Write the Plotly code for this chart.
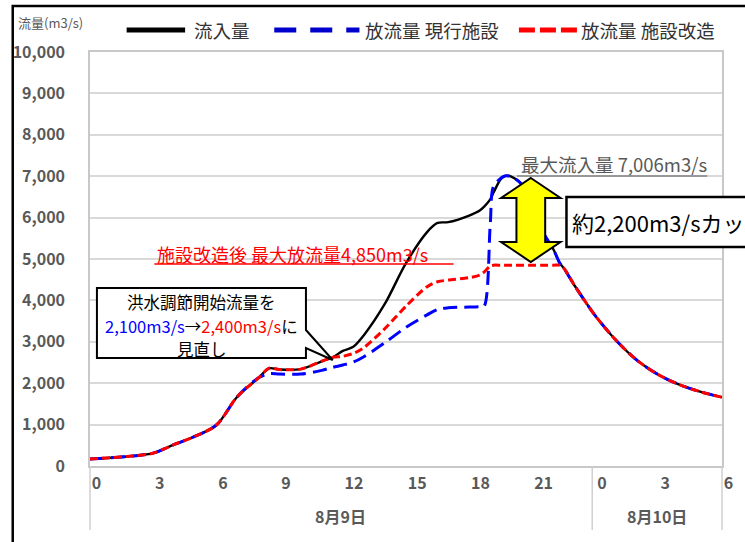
import plotly.graph_objects as go

# Time axis (hours from 0:00 on 8/9) and discharge series (m3/s)
hours = [0, 1, 2, 3, 4, 5, 6, 7, 8, 8.5, 9, 10, 11, 11.5, 12, 12.5, 13, 14, 15, 16,
         16.5, 17, 18, 18.5, 18.7, 19, 19.15, 19.5, 19.7, 20, 20.5, 21, 21.5, 22,
         22.3, 22.5, 23, 23.5, 24, 25, 26, 27, 28, 29, 30]

inflow = [170, 200, 240, 310, 520, 720, 990, 1680, 2130, 2360, 2330, 2340, 2530, 2620,
          2780, 2880, 3160, 3920, 4900, 5650, 5870, 5890, 6050, 6170, 6260, 6440, 6600,
          6930, 7006, 6990, 6800, 6330, 5650, 5230, 4900, 4770, 4360, 3980, 3620, 3020,
          2540, 2200, 1960, 1790, 1660]

outflow_current = [170, 200, 240, 310, 520, 720, 990, 1680, 2130, 2230, 2220, 2220, 2310,
                   2380, 2440, 2510, 2640, 2980, 3350, 3650, 3780, 3820, 3840, 3845, 3850,
                   5840, 6750, 6950, 7006, 6990, 6800, 6330, 5650, 5230, 4900, 4770, 4360,
                   3980, 3620, 3020, 2540, 2200, 1960, 1790, 1660]

outflow_modified = [170, 200, 240, 310, 520, 720, 990, 1680, 2130, 2360, 2330, 2340, 2530,
                    2620, 2650, 2720, 2860, 3320, 3860, 4330, 4450, 4490, 4550, 4610, 4680,
                    4830, 4850, 4850, 4850, 4850, 4850, 4850, 4850, 4850, 4850, 4770, 4360,
                    3980, 3620, 3020, 2540, 2200, 1960, 1790, 1660]

tick_hours = [0, 3, 6, 9, 12, 15, 18, 21, 24, 27, 30]
tick_text = ["0", "3", "6", "9", "12", "15", "18", "21", "0", "3", "6"]
day_labels = ["8月9日", "8月10日"]
series_names = ["流入量", "放流量 現行施設", "放流量 施設改造"]

FONT = "Noto Sans CJK JP"
GRAY = "#595959"
W, H = 745, 542
PL, PR, PT, PB = 90, 728, 52, 466


def px(x):
    return (x - PL) / (PR - PL)


def py(y):
    return (PB - y) / (PB - PT)


fig = go.Figure()
fig.add_trace(go.Scatter(x=hours, y=inflow, name=series_names[0], mode="lines",
                         line=dict(color="#000000", width=2.4, shape="spline", smoothing=0.9)))
fig.add_trace(go.Scatter(x=hours, y=outflow_current, name=series_names[1], mode="lines",
                         line=dict(color="#0000ff", width=3, dash="14px,7px",
                                   shape="spline", smoothing=0.9)))
fig.add_trace(go.Scatter(x=hours, y=outflow_modified, name=series_names[2], mode="lines",
                         line=dict(color="#ff0000", width=3, dash="8px,4px",
                                   shape="spline", smoothing=0.9)))

shapes = []
annotations = []

# outer frame
shapes.append(dict(type="rect", xref="paper", yref="paper", x0=px(12), x1=px(800),
                   y0=py(600), y1=py(6), line=dict(color="black", width=2.5)))
# day separators below the axis
for xs in (90, 597, 728):
    shapes.append(dict(type="line", xref="paper", yref="paper", x0=px(xs), x1=px(xs),
                       y0=py(466), y1=py(530), line=dict(color="#d0d0d0", width=1.5)))

# custom legend
legend_items = [
    (127, 186, "#000000", "solid", 193, series_names[0]),
    (276, 362, "#0000cc", "22px,14px", 366, series_names[1]),
    (523, 582, "#ff0000", "16px,5px", 584, series_names[2]),
]
for x0, x1, col, dsh, tx, name in legend_items:
    shapes.append(dict(type="line", xref="paper", yref="paper", x0=px(x0), x1=px(x1),
                       y0=py(30), y1=py(30), line=dict(color=col, width=5, dash=dsh)))
    annotations.append(dict(xref="paper", yref="paper", x=px(tx), y=py(30), xanchor="left",
                            yanchor="middle", showarrow=False, text=name,
                            font=dict(family=FONT, size=18.5, color="#333333")))

annotations.append(dict(xref="paper", yref="paper", x=px(15), y=py(23), xanchor="left",
                        yanchor="middle", showarrow=False, text="流量(m3/s)",
                        font=dict(family=FONT, size=13, color=GRAY)))

# day labels
for cx, lab in zip((343, 662), day_labels):
    annotations.append(dict(xref="paper", yref="paper", x=px(cx), y=py(516), xanchor="center",
                            yanchor="middle", showarrow=False, text=lab,
                            font=dict(family=FONT, size=16, color=GRAY, weight="bold")))

# maximum outflow after modification (red, underlined)
annotations.append(dict(xref="paper", yref="paper", x=px(156), y=py(254), xanchor="left",
                        yanchor="middle", showarrow=False,
                        text="施設改造後 最大放流量4,850m3/s",
                        font=dict(family=FONT, size=18, color="#ff0000")))
shapes.append(dict(type="line", xref="paper", yref="paper", x0=px(155), x1=px(457),
                   y0=py(264), y1=py(264), line=dict(color="#ff0000", width=1.5)))

# maximum inflow (gray, underlined)
annotations.append(dict(xref="paper", yref="paper", x=px(523), y=py(164), xanchor="left",
                        yanchor="middle", showarrow=False, text="最大流入量 7,006m3/s",
                        font=dict(family=FONT, size=18.5, color=GRAY)))
shapes.append(dict(type="line", xref="paper", yref="paper", x0=px(521), x1=px(713),
                   y0=py(176), y1=py(176), line=dict(color=GRAY, width=1.2)))

# callout with pointer
pts = [(97, 288), (308, 288), (308, 330), (335, 360), (308, 348), (308, 358), (97, 358)]
path = "M " + " L ".join(f"{px(a):.5f},{py(b):.5f}" for a, b in pts) + " Z"
shapes.append(dict(type="path", xref="paper", yref="paper", path=path,
                   fillcolor="white", line=dict(color="black", width=2)))
callout_lines = [
    (301.5, "洪水調節開始流量を"),
    (325.5, "<span style='color:#0000ff'>2,100m3/s</span>→"
            "<span style='color:#ff0000'>2,400m3/s</span>に"),
    (348.5, "見直し"),
]
for ly, txt in callout_lines:
    annotations.append(dict(xref="paper", yref="paper", x=px(203), y=py(ly), xanchor="center",
                            yanchor="middle", showarrow=False, borderpad=0, text=txt,
                            font=dict(family=FONT, size=16.5, color="black")))

# double arrow showing the reduction
cx = 535
arrow = [(cx, 178), (cx + 30, 198), (cx + 14.5, 198), (cx + 14.5, 242), (cx + 30, 242),
         (cx, 262), (cx - 30, 242), (cx - 14.5, 242), (cx - 14.5, 198), (cx - 30, 198)]
apath = "M " + " L ".join(f"{px(a):.5f},{py(b):.5f}" for a, b in arrow) + " Z"
shapes.append(dict(type="path", xref="paper", yref="paper", path=apath,
                   fillcolor="#ffff00", line=dict(color="black", width=2)))

# reduction label box
shapes.append(dict(type="rect", xref="paper", yref="paper", x0=px(571), x1=px(820),
                   y0=py(247), y1=py(197), fillcolor="white",
                   line=dict(color="black", width=2.5)))
annotations.append(dict(xref="paper", yref="paper", x=px(575), y=py(222), xanchor="left",
                        yanchor="middle", showarrow=False, text="約2,200m3/sカット",
                        font=dict(family=FONT, size=22, color="black")))

fig.update_layout(
    width=W, height=H,
    margin=dict(l=PL, r=W - PR, t=PT, b=H - PB),
    paper_bgcolor="white", plot_bgcolor="white",
    showlegend=False,
    shapes=shapes, annotations=annotations,
    font=dict(family=FONT),
)
fig.update_xaxes(range=[0, 30], tickvals=tick_hours, ticktext=tick_text,
                 showgrid=False, zeroline=False, showline=True, linecolor="#c8c8c8",
                 linewidth=1.5, mirror=True, ticks="", ticklabelposition="outside right",
                 ticklabelshift=1, ticklabelstandoff=2,
                 tickfont=dict(family=FONT, size=16, color=GRAY, weight="bold"))
fig.update_yaxes(range=[0, 10000], dtick=1000, tickformat=",d",
                 showgrid=True, gridcolor="#d9d9d9", gridwidth=1.5, zeroline=False,
                 showline=True, linecolor="#c8c8c8", linewidth=1.5, mirror=True, ticks="",
                 ticklabelstandoff=20,
                 tickfont=dict(family=FONT, size=16, color=GRAY, weight="bold"))

fig.write_html("out.html")
